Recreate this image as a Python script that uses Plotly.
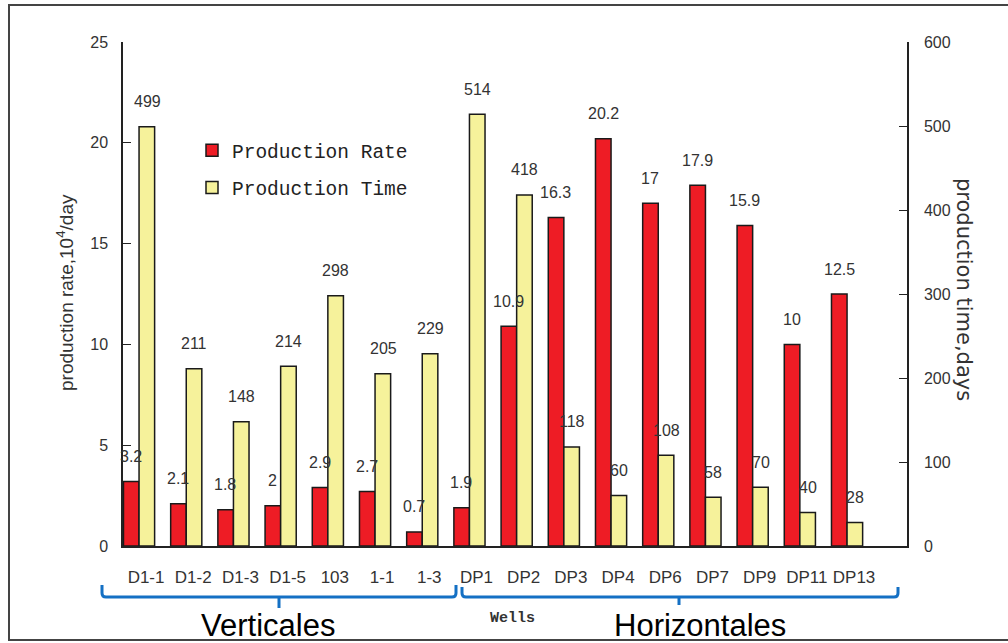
import plotly.graph_objects as go

wells = ["D1-1", "D1-2", "D1-3", "D1-5", "103", "1-1", "1-3",
         "DP1", "DP2", "DP3", "DP4", "DP6", "DP7", "DP9", "DP11", "DP13"]
rate = [3.2, 2.1, 1.8, 2, 2.9, 2.7, 0.7, 1.9, 10.9, 16.3, 20.2, 17, 17.9, 15.9, 10, 12.5]
days = [499, 211, 148, 214, 298, 205, 229, 514, 418, 118, 60, 108, 58, 70, 40, 28]
rate_labels = ["3.2", "2.1", "1.8", "2", "2.9", "2.7", "0.7", "1.9", "10.9", "16.3",
               "20.2", "17", "17.9", "15.9", "10", "12.5"]
day_labels = [str(d) for d in days]

RED = "#EE1C25"
YEL = "#F6F29B"
BLUE = "#1470C4"
TXT = "#333333"

W, H = 1008, 643
L, R, T, B = 123, 907, 42, 546

def px(x):
    return (x - L) / (R - L)

def py(y):
    return (B - y) / (B - T)

fig = go.Figure()
fig.add_trace(go.Bar(x=wells, y=rate, name="Production Rate",
                     marker=dict(color=RED, line=dict(color="#1a1a1a", width=1.5)),
                     offsetgroup="1", yaxis="y", legendgroup="a"))
fig.add_trace(go.Bar(x=wells, y=days, name="Production Time",
                     marker=dict(color=YEL, line=dict(color="#1a1a1a", width=1.5)),
                     offsetgroup="2", yaxis="y2", legendgroup="b"))

lab_font = dict(family="Liberation Sans", size=16, color=TXT)
ann = []
for i, (v, t) in enumerate(zip(rate, rate_labels)):
    ann.append(dict(x=i, y=v, yref="y", xref="x", text=t, showarrow=False, xshift=-8, yshift=25,
                    xanchor="center", yanchor="middle", font=lab_font))
for i, (v, t) in enumerate(zip(days, day_labels)):
    ann.append(dict(x=i, y=v, yref="y2", xref="x", text=t, showarrow=False, xshift=8, yshift=25,
                    xanchor="center", yanchor="middle", font=lab_font))

ann += [
    dict(x=px(65), y=py(293), xref="paper", yref="paper", text="production rate,10<sup>4</sup>/day",
         textangle=-90, showarrow=False, xanchor="center", yanchor="middle",
         font=dict(family="Liberation Sans", size=19, color=TXT)),
    dict(x=px(964), y=py(290), xref="paper", yref="paper", text="production time,days",
         textangle=90, showarrow=False, xanchor="center", yanchor="middle",
         font=dict(family="DejaVu Sans", size=21, color=TXT)),
    dict(x=px(512), y=py(618), xref="paper", yref="paper", text="<b>Wells</b>",
         showarrow=False, xanchor="center", yanchor="middle",
         font=dict(family="Liberation Mono", size=15, color=TXT)),
    dict(x=px(268), y=py(625), xref="paper", yref="paper", text="Verticales",
         showarrow=False, xanchor="center", yanchor="middle",
         font=dict(family="Liberation Sans", size=31, color="#000000")),
    dict(x=px(700), y=py(625), xref="paper", yref="paper", text="Horizontales",
         showarrow=False, xanchor="center", yanchor="middle",
         font=dict(family="Liberation Sans", size=31, color="#000000")),
]

def bracket(x0, x1, xm, ytop, yline, ytip):
    r = 4
    p = (f"M {px(x0)},{py(ytop)} L {px(x0)},{py(yline - r)} Q {px(x0)},{py(yline)} {px(x0 + r)},{py(yline)} "
         f"L {px(x1 - r)},{py(yline)} Q {px(x1)},{py(yline)} {px(x1)},{py(yline - r)} L {px(x1)},{py(ytop)} "
         f"M {px(xm)},{py(yline)} L {px(xm)},{py(ytip)}")
    return dict(type="path", path=p, xref="paper", yref="paper", line=dict(color=BLUE, width=3))

shapes = [
    bracket(102, 456, 279, 585, 597, 608),
    bracket(462, 898, 679, 587, 597, 605),
    dict(type="rect", xref="paper", yref="paper", x0=px(9), x1=px(1015), y0=py(640), y1=py(5),
         line=dict(color="#444444", width=2)),
]

fig.update_layout(
    width=W, height=H,
    margin=dict(l=L, r=W - R, t=T, b=H - B, autoexpand=False),
    paper_bgcolor="white", plot_bgcolor="white",
    barmode="group", bargap=0.34, bargroupgap=0,
    showlegend=True,
    legend=dict(x=px(192), y=py(131), xanchor="left", yanchor="top", bgcolor="rgba(0,0,0,0)",
                font=dict(family="Liberation Mono", size=19.5, color="#222222"), tracegroupgap=9),
    xaxis=dict(type="category", range=[-0.34, 16.27], showline=True, linecolor="#222222", linewidth=1.5,
               ticks="", tickfont=dict(family="Liberation Sans", size=17, color=TXT), ticklabelstandoff=15,
               ticklabelshift=7, showgrid=False, zeroline=False),
    yaxis=dict(range=[0, 25], tickvals=[0, 5, 10, 15, 20, 25], showline=True, linecolor="#222222", linewidth=1.5,
               ticks="inside", ticklen=8, tickcolor="#222222",
               tickfont=dict(family="Liberation Sans", size=16, color=TXT),
               showgrid=False, zeroline=False, ticklabelstandoff=10),
    yaxis2=dict(range=[0, 600], tickvals=[0, 100, 200, 300, 400, 500, 600], overlaying="y", side="right",
                showline=True, linecolor="#222222", linewidth=1.5, ticks="inside", ticklen=8, tickcolor="#222222",
                tickfont=dict(family="Liberation Sans", size=16, color=TXT), showgrid=False, zeroline=False,
                ticklabelstandoff=12),
    annotations=ann,
    shapes=shapes,
)

fig.write_html("out.html", config={"displayModeBar": False},
               post_script="document.body.style.margin='0';document.body.style.overflow='hidden';")
